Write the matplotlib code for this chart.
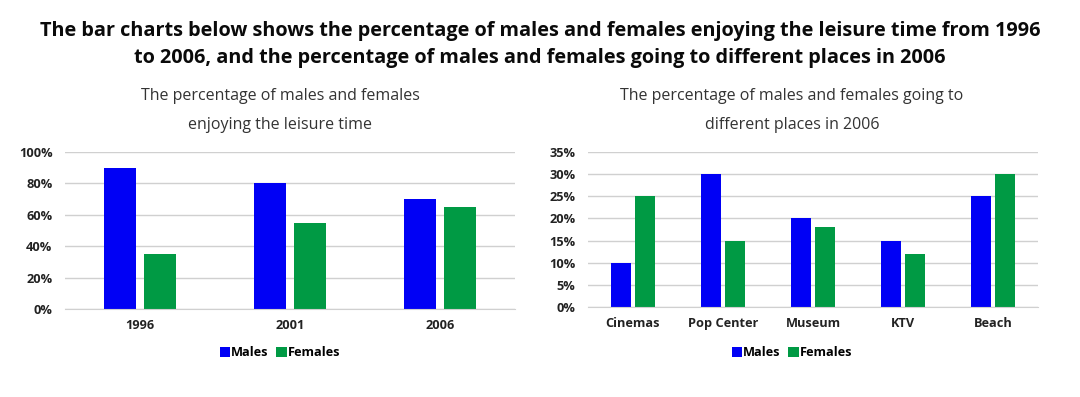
import numpy as np
import matplotlib
matplotlib.use("Agg")
import matplotlib.pyplot as plt
from matplotlib.ticker import PercentFormatter

plt.rcParams["font.family"] = ["Open Sans", "DejaVu Sans"]

# data
years = ["1996", "2001", "2006"]
leisure_males = [90, 80, 70]
leisure_females = [35, 55, 65]

places = ["Cinemas", "Pop Center", "Museum", "KTV", "Beach"]
place_males = [10, 30, 20, 15, 25]
place_females = [25, 15, 18, 12, 30]

blue = "#0000F5"
green = "#009A44"

fig = plt.figure(figsize=(10.8, 3.97), dpi=100)
W, H = 1080, 397

fig.text(0.5, 1 - 31 / H, "The bar charts below shows the percentage of males and females enjoying the leisure time from 1996",
         ha="center", va="center", fontsize=14.3, fontweight="bold", color="#0a0a0a")
fig.text(0.5, 1 - 58 / H, "to 2006, and the percentage of males and females going to different places in 2006",
         ha="center", va="center", fontsize=14.3, fontweight="bold", color="#0a0a0a")


def draw(ax, cats, males, females, ymax, step, sub1, sub2, cx):
    x = np.arange(len(cats))
    w = 0.215
    off = 0.133
    ax.bar(x - off, males, w, color=blue, label="Males")
    ax.bar(x + off, females, w, color=green, label="Females")
    ax.set_xlim(-0.5, len(cats) - 0.5)
    ax.set_ylim(0, ymax)
    ax.set_yticks(np.arange(0, ymax + 0.1, step))
    ax.yaxis.set_major_formatter(PercentFormatter(decimals=0))
    ax.set_xticks(x)
    ax.set_xticklabels(cats)
    ax.grid(axis="y", color="#d0d0d0", linewidth=1)
    ax.set_axisbelow(True)
    for s in ["top", "right", "left"]:
        ax.spines[s].set_visible(False)
    ax.spines["bottom"].set_color("#d0d0d0")
    ax.tick_params(length=0, labelsize=9.2, colors="#222222")
    ax.tick_params(axis="y", pad=9)
    ax.tick_params(axis="x", pad=7)
    for t in ax.get_xticklabels() + ax.get_yticklabels():
        t.set_fontweight("bold")
    ax.legend(loc="center", bbox_to_anchor=(cx, 1 - 353 / H), bbox_transform=fig.transFigure,
              ncol=2, frameon=False, prop={"size": 9.2, "weight": "bold"},
              handlelength=0.8, handleheight=0.8, handletextpad=0.1, columnspacing=0.6)
    fig.text(cx, 1 - 96 / H, sub1, ha="center", va="center", fontsize=11.5, color="#333333")
    fig.text(cx, 1 - 125 / H, sub2, ha="center", va="center", fontsize=11.5, color="#333333")


ax1 = fig.add_axes([65 / W, 1 - 309 / H, 450 / W, 157 / H])
draw(ax1, years, leisure_males, leisure_females, 100, 20,
     "The percentage of males and females", "enjoying the leisure time", 280 / W)

ax2 = fig.add_axes([588 / W, 1 - 307 / H, 450 / W, 155 / H])
draw(ax2, places, place_males, place_females, 35, 5,
     "The percentage of males and females going to", "different places in 2006", 792 / W)

fig.savefig("out.png", dpi=100)
